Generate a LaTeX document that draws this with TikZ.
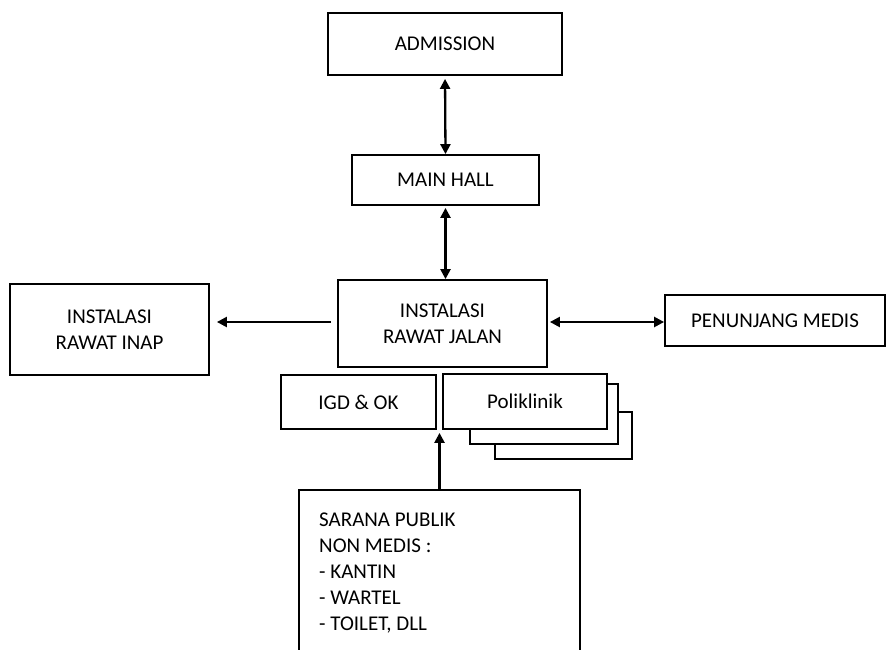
\documentclass[tikz,border=0pt]{standalone}
\usepackage{fontspec}
\setmainfont{Carlito}
\usetikzlibrary{arrows.meta,calc}
\begin{document}
\begin{tikzpicture}[x=1pt,y=-1pt,
  box/.style={draw, line width=1.8pt, fill=white, inner sep=0pt, align=center,
    font=\fontsize{21}{26}\selectfont},
  tip/.style={Triangle[length=10pt,width=10pt]},
  link/.style={line width=2.3pt, {Triangle[length=10pt,width=10pt]}-{Triangle[length=10pt,width=10pt]}},
  oneway/.style={line width=2.3pt, -{Triangle[length=10pt,width=10pt]}}]
\useasboundingbox (0,0) rectangle (886,650);

% main chain
\node[box, minimum width=234pt, minimum height=62pt] (adm) at (445,44) {ADMISSION};
\node[box, minimum width=187pt, minimum height=50pt] (hall) at (445.5,180) {MAIN HALL};
\node[box, minimum width=209pt, minimum height=87pt] (jalan) at (442.5,323.5) {INSTALASI\\RAWAT JALAN};

% side units
\node[box, minimum width=199pt, minimum height=91pt] (inap) at (109.5,329.5) {INSTALASI\\RAWAT INAP};
\node[box, minimum width=220pt, minimum height=51pt] (medis) at (775,320.5) {PENUNJANG MEDIS};

% units below the outpatient block
\node[box, minimum width=155pt, minimum height=54pt] (igd) at (358.5,402) {IGD \& OK};
\node[box, minimum width=137pt, minimum height=47pt] (poli3) at (563.5,435.5) {};
\node[box, minimum width=148pt, minimum height=60pt] (poli2) at (544,414) {};
\node[box, minimum width=164pt, minimum height=55pt] (poli) at (525,401.5) {Poliklinik};

% public facilities
\node[box, minimum width=281pt, minimum height=200pt, anchor=north west] (sarana) at (298,489) {};
\node[anchor=north west, inner sep=0pt, align=left, font=\fontsize{21}{26}\selectfont]
  (saranatext) at (319,513) {SARANA PUBLIK\\NON MEDIS :\\- KANTIN\\- WARTEL\\- TOILET, DLL};

% connectors
\draw[link, shorten <=3pt] (adm.south) -- (hall.north);
\draw[link, shorten <=2pt] (hall.south) -- (hall.south |- jalan.north);
\draw[oneway, shorten <=6pt, shorten >=7pt] (jalan.west |- 0,322) -- (inap.east |- 0,322);
\draw[link, shorten <=2pt] (jalan.east |- 0,322) -- (medis.west |- 0,322);
\coordinate (gap) at ($(igd.south east)!0.5!(poli.south west)$);
\draw[oneway, shorten >=3pt] (gap |- sarana.north) -- (gap);
\end{tikzpicture}
\end{document}
